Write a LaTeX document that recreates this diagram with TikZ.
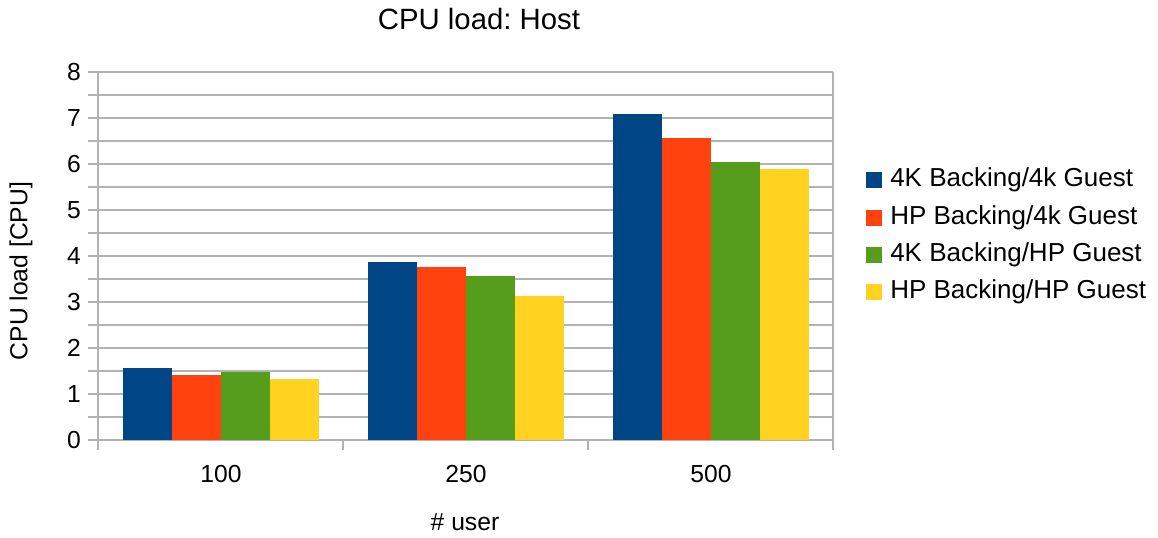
\documentclass[tikz,border=0pt]{standalone}
\usepackage{fontspec}
\setmainfont{Liberation Sans}
\frenchspacing
\definecolor{cblue}{HTML}{004586}
\definecolor{cred}{HTML}{FF420E}
\definecolor{cgreen}{HTML}{579D1C}
\definecolor{cyellow}{HTML}{FFD320}
\definecolor{cgrid}{HTML}{B3B3B3}
\tikzset{
  gridline/.style={draw=cgrid, line width=1.1pt},
  lbl/.style={font=\fontsize{18.5}{22}\selectfont\frenchspacing, inner sep=0pt},
  leglbl/.style={font=\fontsize{19.5}{23}\selectfont\frenchspacing, inner sep=0pt},
  ttl/.style={font=\fontsize{22}{26}\selectfont\frenchspacing, inner sep=0pt},
  legsq/.style={minimum width=12pt, minimum height=12pt, inner sep=0pt, draw=none},
}
\begin{document}
\begin{tikzpicture}[x=0.75pt,y=-0.75pt]
\useasboundingbox (0,0) rectangle (1158,537);
% grid lines every 0.5
\foreach \k in {0,...,16} {
  \draw[gridline] (88,{440-23*\k}) -- (833,{440-23*\k});
}
\draw[gridline] (98,72) -- (98,450);
\draw[gridline] (833,72) -- (833,450);
\draw[gridline] (343,440) -- (343,450);
\draw[gridline] (588,440) -- (588,450);
% bars
\foreach \g/\a/\b/\c/\d in {0/1.56/1.41/1.47/1.32, 1/3.87/3.76/3.57/3.13, 2/7.09/6.57/6.05/5.89} {
  \pgfmathsetmacro{\xl}{123+245*\g}
  \fill[cblue]   (\xl,440) rectangle ({\xl+49},{440-46*\a});
  \fill[cred]    ({\xl+49},440) rectangle ({\xl+98},{440-46*\b});
  \fill[cgreen]  ({\xl+98},440) rectangle ({\xl+147},{440-46*\c});
  \fill[cyellow] ({\xl+147},440) rectangle ({\xl+196},{440-46*\d});
}
% y tick labels
\foreach \v in {0,...,8} {
  \node[lbl, anchor=east] (yl\v) at (81,{440-46*\v}) {\v};
}
% x labels
\node[lbl] (x100) at (221,474) {100};
\node[lbl] (x250) at (466,474) {250};
\node[lbl] (x500) at (711,474) {500};
% titles
\node[ttl] (title) at (479,19) {CPU load: Host};
\node[lbl] (xtitle) at (465,522) {\# user};
\node[lbl, rotate=90] (ytitle) at (21,271) {CPU load [CPU]};
% legend
\node[legsq, fill=cblue] (s1) at (874,180) {};
\node[leglbl, anchor=west] (l1) at (890,180) {4K Backing/4k Guest};
\node[legsq, fill=cred] (s2) at (874,218) {};
\node[leglbl, anchor=west] (l2) at (890,218) {HP Backing/4k Guest};
\node[legsq, fill=cgreen] (s3) at (874,255) {};
\node[leglbl, anchor=west] (l3) at (890,255) {4K Backing/HP Guest};
\node[legsq, fill=cyellow] (s4) at (874,292) {};
\node[leglbl, anchor=west] (l4) at (890,292) {HP Backing/HP Guest};
\end{tikzpicture}
\end{document}
